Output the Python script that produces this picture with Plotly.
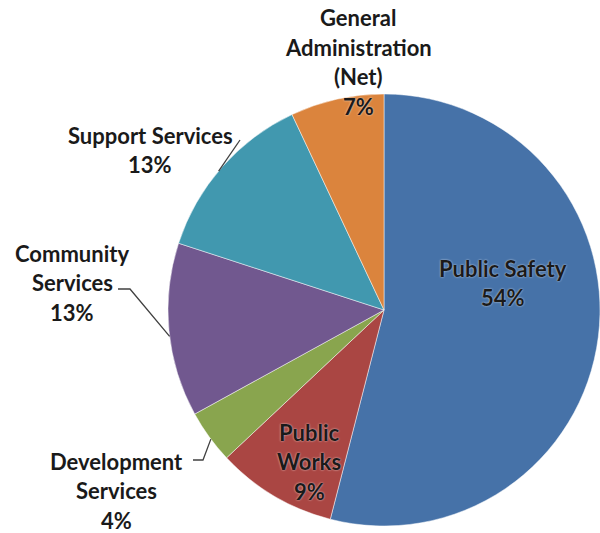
import math
import plotly.graph_objects as go

# Budget shares by service area (percent of total)
categories = ["Public Safety", "Public Works", "Development Services",
              "Community Services", "Support Services",
              "General Administration (Net)"]
shares = [54, 9, 4, 13, 13, 7]
label_lines = [["Public Safety"], ["Public", "Works"], ["Development", "Services"],
               ["Community", "Services"], ["Support Services"],
               ["General", "Administration", "(Net)"]]
colors = ["#4672A8", "#AA4643", "#89A54E", "#71588F", "#4198AF", "#DB843D"]

W, H = 600, 533
CX, CY, R = 384, 310, 216          # pie centre / radius in pixels

def px(x):
    return x / W

def py(y):
    return 1 - y / H

fig = go.Figure(go.Pie(
    labels=categories,
    values=shares,
    sort=False,
    direction="clockwise",
    rotation=0,
    marker=dict(colors=colors, line=dict(color="rgba(255,255,255,0.6)", width=0.8)),
    textinfo="none",
    hoverinfo="label+percent",
    domain=dict(x=[px(CX - R), px(CX + R)], y=[py(CY + R), py(CY - R)]),
    showlegend=False,
))

# label anchor (centre of first text line, pixels)
label_pos = [(503, 268), (309, 432), (116, 461), (72, 253), (150, 135), (358, 18)]
STEP = 29.5
annotations = []
for lines, val, (lx, ly) in zip(label_lines, shares, label_pos):
    for i, t in enumerate(lines + [f"{val}%"]):
        annotations.append(dict(
            x=px(lx), y=py(ly + i * STEP), xref="paper", yref="paper",
            text=f"<b>{t}</b>", showarrow=False,
            xanchor="center", yanchor="middle",
            font=dict(family="Lato", size=22, color="#1a1a1a",
                      shadow="0px 0px 2px rgba(255,255,255,0.8)"),
        ))

def edge(dx, dy):
    d = math.hypot(dx, dy)
    return CX + R * dx / d, CY + R * dy / d

# leader lines: label end -> pie rim
leaders = [
    [(240, 140), edge(-169, -142)],
    [(118, 289), (130, 289), edge(-220, 27)],
    [(193, 460), (203, 460), edge(-177, 132)],
]
shapes = []
for pts in leaders:
    path = "M " + " L ".join(f"{px(x)},{py(y)}" for x, y in pts)
    shapes.append(dict(type="path", path=path, xref="paper", yref="paper",
                       line=dict(color="#404040", width=1.3)))

fig.update_layout(
    width=W, height=H,
    margin=dict(l=0, r=0, t=0, b=0, autoexpand=False),
    paper_bgcolor="white", plot_bgcolor="white",
    annotations=annotations, shapes=shapes,
)

fig.write_html("out.html")
